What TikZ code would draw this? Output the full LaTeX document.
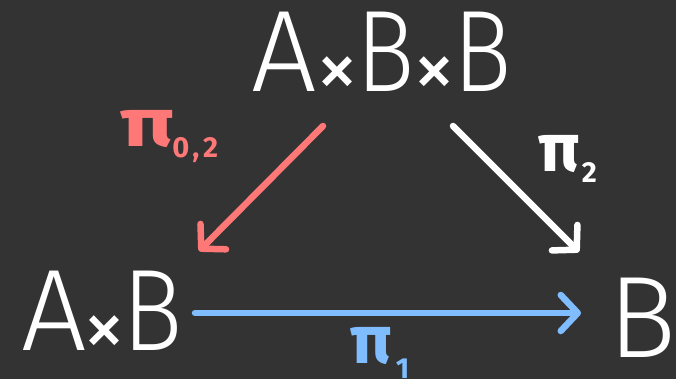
\documentclass[tikz,border=0pt]{standalone}
\usepackage{fontspec}
\setmainfont{Fira Sans Light}
\newfontfamily\lblfont{Fira Sans}
\usetikzlibrary{arrows.meta}
\definecolor{bg}{HTML}{333333}
\definecolor{redc}{HTML}{FF7878}
\definecolor{bluec}{HTML}{80BDFF}
\tikzset{
  obj/.style={text=white, inner sep=0pt, anchor=base west, text height=80pt, text depth=0pt,
    font=\fontsize{116}{116}\selectfont},
  lbl/.style={inner sep=0pt, anchor=base west, text height=30pt, text depth=0pt,
    font=\lblfont\bfseries\fontsize{68}{68}\selectfont},
  arr/.style={line width=6.5pt, line cap=round, line join=round,
    -{Straight Barb[length=17pt,width=36pt,line cap=round,line join=round]}},
}
\newcommand{\tms}{\raisebox{-6pt}{\lblfont\fontsize{84}{84}\selectfont ×}}
\newcommand{\bb}[1]{\scalebox{#1}[1]{B}}
\newcommand{\sub}[2]{\raisebox{-#1pt}{\fontsize{29}{29}\selectfont #2}}
\begin{document}
\begin{tikzpicture}[x=1pt,y=-1pt]
\fill[bg] (0,0) rectangle (676,379);
\useasboundingbox (0,0) rectangle (676,379);
\node[obj] (abb) at (251,92) {A\kern0pt\tms\kern-2pt\bb{0.84}\kern-2pt\tms\kern-2pt\bb{0.84}};
\node[obj] (ab) at (21,350) {A\kern-3pt\tms\kern-3pt\bb{0.87}};
\node[obj] (b) at (608,357) {\bb{0.98}};
\coordinate (s1) at (323,126);
\coordinate (e1) at (199,251);
\coordinate (s2) at (453,126);
\coordinate (e2) at (579,252);
\coordinate (s3) at (195,313);
\coordinate (e3) at (581,313);
\draw[arr, redc] (s1) -- (e1);
\draw[arr, white] (s2) -- (e2);
\draw[arr, bluec] (s3) -- (e3);
\node[lbl, text=redc] (l1) at (120,147) {\scalebox{1.3}[1]{π}\kern-2pt\sub{11}{0\kern3pt,\kern4pt2}};
\node[lbl, text=white] (l2) at (538,172) {π\kern2pt\sub{10}{2}};
\node[lbl, text=bluec] (l3) at (350,363) {π\kern4pt\sub{15}{1}};
\end{tikzpicture}
\end{document}
